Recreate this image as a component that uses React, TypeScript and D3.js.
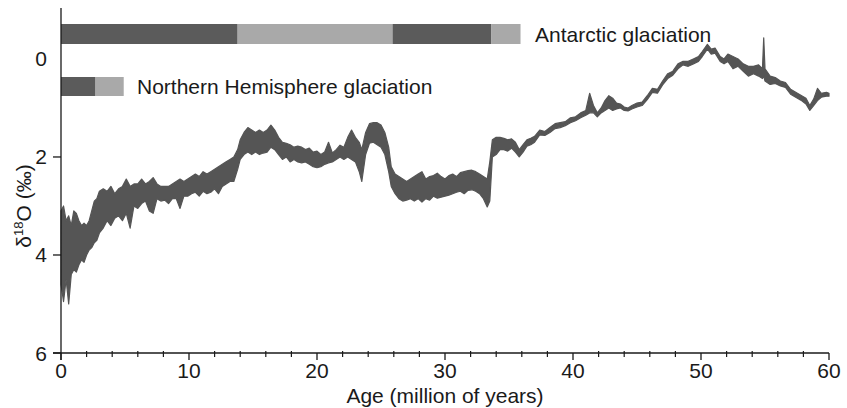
import React from "react";
import * as d3 from "d3";

// ---- data ----
const ages = [
  0.0, 0.2, 0.4, 0.6, 0.8, 1.0, 1.2, 1.4, 1.6, 1.8, 2.0, 2.2, 2.4, 2.6, 2.8, 3.0, 3.3, 3.6, 3.9, 4.2,
  4.5, 4.8, 5.1, 5.4, 5.7, 6.0, 6.3, 6.6, 6.9, 7.2, 7.5, 7.8, 8.1, 8.4, 8.7, 9.0, 9.3, 9.6, 9.9, 10.2,
  10.5, 10.8, 11.1, 11.4, 11.7, 12.0, 12.3, 12.6, 12.9, 13.2, 13.5, 13.8, 14.0, 14.3, 14.6, 14.9, 15.2, 15.5, 15.8, 16.1,
  16.4, 16.7, 17.0, 17.3, 17.6, 17.9, 18.2, 18.5, 18.8, 19.1, 19.4, 19.7, 20.0, 20.3, 20.6, 20.9, 21.2, 21.5, 21.8, 22.1,
  22.4, 22.7, 23.0, 23.3, 23.5, 23.8, 24.1, 24.4, 24.7, 25.0, 25.3, 25.6, 25.8, 26.1, 26.4, 26.7, 27.0, 27.3, 27.6, 27.9,
  28.2, 28.5, 28.8, 29.1, 29.4, 29.7, 30.0, 30.3, 30.6, 30.9, 31.2, 31.5, 31.8, 32.1, 32.4, 32.7, 33.0, 33.3, 33.5, 33.7,
  34.0, 34.3, 34.6, 34.9, 35.2, 35.5, 35.8, 36.1, 36.4, 36.7, 37.0, 37.4, 37.8, 38.2, 38.6, 39.0, 39.4, 39.8, 40.2, 40.6,
  41.0, 41.3, 41.6, 41.9, 42.2, 42.5, 42.8, 43.1, 43.4, 43.7, 44.0, 44.3, 44.6, 45.0, 45.4, 45.8, 46.2, 46.6, 47.0, 47.4,
  47.8, 48.2, 48.6, 49.0, 49.4, 49.8, 50.1, 50.5, 50.8, 51.1, 51.5, 51.8, 52.1, 52.5, 52.9, 53.3, 53.7, 54.1, 54.5, 54.8,
  54.9, 55.0, 55.4, 55.8, 56.2, 56.6, 57.0, 57.4, 57.8, 58.2, 58.5, 58.8, 59.1, 59.4, 59.8, 60.0,
];
// lighter (upper) edge of the noisy record, per mil
const d18oTop = [
  3.1, 3.0, 3.3, 3.2, 3.4, 3.1, 3.15, 3.3, 3.4, 3.35, 3.4, 3.3, 3.1, 2.9, 2.85, 2.7, 2.65, 2.7, 2.6, 2.75,
  2.65, 2.6, 2.45, 2.6, 2.55, 2.55, 2.45, 2.55, 2.5, 2.42, 2.55, 2.6, 2.6, 2.6, 2.55, 2.5, 2.45, 2.5, 2.45, 2.4,
  2.35, 2.4, 2.3, 2.35, 2.3, 2.25, 2.2, 2.15, 2.1, 2.05, 2.0, 1.85, 1.65, 1.5, 1.4, 1.45, 1.5, 1.45, 1.5, 1.45,
  1.35, 1.45, 1.6, 1.7, 1.72, 1.75, 1.8, 1.78, 1.8, 1.85, 1.82, 1.9, 1.88, 1.95, 1.9, 1.7, 1.92, 1.85, 1.76, 1.8,
  1.6, 1.45, 1.6, 1.7, 1.85, 1.5, 1.32, 1.3, 1.3, 1.35, 1.5, 1.8, 2.2, 2.35, 2.4, 2.45, 2.5, 2.45, 2.4, 2.35,
  2.3, 2.45, 2.4, 2.38, 2.33, 2.4, 2.45, 2.38, 2.35, 2.4, 2.32, 2.3, 2.28, 2.27, 2.3, 2.35, 2.4, 2.45, 2.1, 1.65,
  1.6, 1.6, 1.62, 1.65, 1.63, 1.7, 1.85, 1.75, 1.65, 1.62, 1.58, 1.45, 1.48, 1.4, 1.32, 1.3, 1.28, 1.2, 1.18, 1.1,
  1.05, 0.7, 0.95, 1.1, 1.0, 0.85, 0.75, 0.8, 0.9, 0.92, 0.98, 1.0, 0.95, 0.9, 0.88, 0.75, 0.6, 0.62, 0.45, 0.3,
  0.25, 0.1, 0.05, 0.05, 0.0, -0.05, -0.15, -0.3, -0.2, -0.22, -0.05, 0.0, -0.1, -0.05, 0.0, 0.1, 0.15, 0.15, 0.12, 0.2,
  -0.43, 0.2, 0.35, 0.38, 0.45, 0.48, 0.62, 0.68, 0.74, 0.8, 0.95, 0.82, 0.6, 0.7, 0.68, 0.7,
];
// heavier (lower) edge of the noisy record, per mil
const d18oBottom = [
  4.6, 4.95, 4.5, 5.0, 4.4, 4.3, 4.35, 4.2, 4.1, 4.15, 4.0, 3.9, 3.85, 3.75, 3.7, 3.55, 3.45, 3.3, 3.4, 3.25,
  3.2, 3.3, 3.15, 3.45, 3.0, 3.05, 2.95, 2.9, 3.1, 3.15, 2.85, 2.9, 2.88, 2.95, 2.85, 2.85, 3.05, 2.8, 2.8, 2.75,
  2.72, 2.8, 2.7, 2.75, 2.72, 2.65, 2.75, 2.6, 2.55, 2.5, 2.5, 2.25, 2.05, 1.95, 1.9, 1.95, 1.9, 1.95, 1.92, 1.9,
  1.8, 1.85, 1.95, 2.05, 2.0, 2.1, 2.05, 2.1, 2.12, 2.1, 2.15, 2.2, 2.22, 2.2, 2.15, 2.12, 2.1, 2.05, 2.0, 2.05,
  2.0, 2.05, 2.1, 2.3, 2.5, 1.95, 1.72, 1.7, 1.75, 1.8, 1.95, 2.3, 2.6, 2.75, 2.85, 2.9, 2.88, 2.85, 2.9, 2.85,
  2.92, 2.85, 2.88, 2.8, 2.84, 2.82, 2.8, 2.78, 2.75, 2.72, 2.7, 2.75, 2.68, 2.67, 2.7, 2.75, 2.85, 3.02, 2.9, 2.0,
  1.95, 1.85, 1.85, 1.88, 1.82, 1.9, 2.0, 1.9, 1.78, 1.75, 1.7, 1.55, 1.56, 1.5, 1.42, 1.4, 1.36, 1.3, 1.26, 1.2,
  1.15, 1.1, 1.1, 1.18, 1.1, 1.05, 1.0, 1.05, 1.02, 1.0, 1.05, 1.06, 1.02, 0.98, 0.95, 0.83, 0.68, 0.7, 0.53, 0.4,
  0.33, 0.2, 0.12, 0.15, 0.1, 0.05, -0.05, -0.2, -0.1, -0.12, 0.05, 0.1, 0.05, 0.2, 0.15, 0.25, 0.35, 0.3, 0.35, 0.4,
  0.35, 0.45, 0.52, 0.5, 0.55, 0.58, 0.72, 0.78, 0.84, 0.92, 1.05, 0.95, 0.85, 0.78, 0.76, 0.76,
];

// glaciation bars (age in Myr)
const antarcticStart = [0, 13.8, 25.9, 33.6];
const antarcticEnd = [13.8, 25.9, 33.6, 35.9];
const antarcticKind = ["full", "partial", "full", "partial"];
const northernStart = [0, 2.7];
const northernEnd = [2.7, 4.9];
const northernKind = ["full", "partial"];

const xMajorTicks = [0, 10, 20, 30, 40, 50, 60];
const xMinorTicks = [2, 4, 6, 8, 12, 14, 16, 18, 22, 24, 26, 28, 32, 34, 36, 38, 42, 44, 46, 48, 52, 54, 56, 58];
const yTickLabels = [0, 2, 4, 6];
const yTickMarks = [2, 4, 6];

const labelAntarctic = "Antarctic glaciation";
const labelNorthern = "Northern Hemisphere glaciation";
const xTitle = "Age (million of years)";

export default function App() {
  const W = 847;
  const H = 408;
  const x = d3.scaleLinear().domain([0, 60]).range([61, 829]);
  const y = d3.scaleLinear().domain([-1.04, 6]).range([8, 353]);
  const font = "'Liberation Sans', Arial, sans-serif";
  const ink = "#1a1a1a";
  const curveColor = "#555555";
  const dark = "#5b5b5b";
  const light = "#a9a9a9";

  const rows = ages.map((a, i) => ({ a, t: d18oTop[i], b: d18oBottom[i] }));
  const area = d3
    .area<{ a: number; t: number; b: number }>()
    .x((d) => x(d.a))
    .y0((d) => y(d.b))
    .y1((d) => y(d.t))
    .curve(d3.curveLinear);

  const baseY = y(6);

  const antBarTop = 24;
  const antBarH = 20;
  const nhBarTop = 77;
  const nhBarH = 19;

  return (
    <svg
      width={W}
      height={H}
      style={{ position: "absolute", left: 0, top: 0, background: "#fff" }}
      fontFamily={font}
    >
      {/* glaciation bars */}
      {antarcticStart.map((s, i) => (
        <rect
          key={"a" + i}
          x={x(s)}
          y={antBarTop}
          width={x(antarcticEnd[i]) - x(s)}
          height={antBarH}
          fill={antarcticKind[i] === "full" ? dark : light}
        />
      ))}
      {northernStart.map((s, i) => (
        <rect
          key={"n" + i}
          x={x(s)}
          y={nhBarTop}
          width={x(northernEnd[i]) - x(s)}
          height={nhBarH}
          fill={northernKind[i] === "full" ? dark : light}
        />
      ))}
      <text x={535} y={42} fontSize={21} fill={ink}>
        {labelAntarctic}
      </text>
      <text x={137} y={94} fontSize={21} fill={ink}>
        {labelNorthern}
      </text>

      {/* record */}
      <path d={area(rows) || ""} fill={curveColor} stroke={curveColor} strokeWidth={1.2} strokeLinejoin="round" />

      {/* axes */}
      <line x1={x(0)} x2={x(0)} y1={8} y2={baseY + 7} stroke={ink} strokeWidth={1.3} />
      <line x1={53} x2={x(60)} y1={baseY} y2={baseY} stroke={ink} strokeWidth={1.3} />
      {yTickMarks.map((t) => (
        <line key={"yt" + t} x1={53} x2={x(0)} y1={y(t)} y2={y(t)} stroke={ink} strokeWidth={1.3} />
      ))}
      {yTickLabels.map((t) => (
        <text key={"yl" + t} x={47} y={y(t) + 7.5} fontSize={21} textAnchor="end" fill={ink}>
          {t}
        </text>
      ))}
      {xMajorTicks.map((t) => (
        <line key={"xM" + t} x1={x(t)} x2={x(t)} y1={baseY} y2={baseY + 7} stroke={ink} strokeWidth={1.3} />
      ))}
      {xMinorTicks.map((t) => (
        <line key={"xm" + t} x1={x(t)} x2={x(t)} y1={baseY - 2} y2={baseY + 4} stroke={ink} strokeWidth={1.2} />
      ))}
      {xMajorTicks.map((t) => (
        <text key={"xl" + t} x={x(t)} y={378} fontSize={21} textAnchor="middle" fill={ink}>
          {t}
        </text>
      ))}
      <text x={x(30)} y={403} fontSize={21} textAnchor="middle" fill={ink}>
        {xTitle}
      </text>
      <text transform={`translate(31,${206}) rotate(-90)`} fontSize={21} textAnchor="middle" fill={ink}>
        δ<tspan fontSize={13} dy={-8}>18</tspan>
        <tspan dy={8}>O (‰)</tspan>
      </text>
    </svg>
  );
}
